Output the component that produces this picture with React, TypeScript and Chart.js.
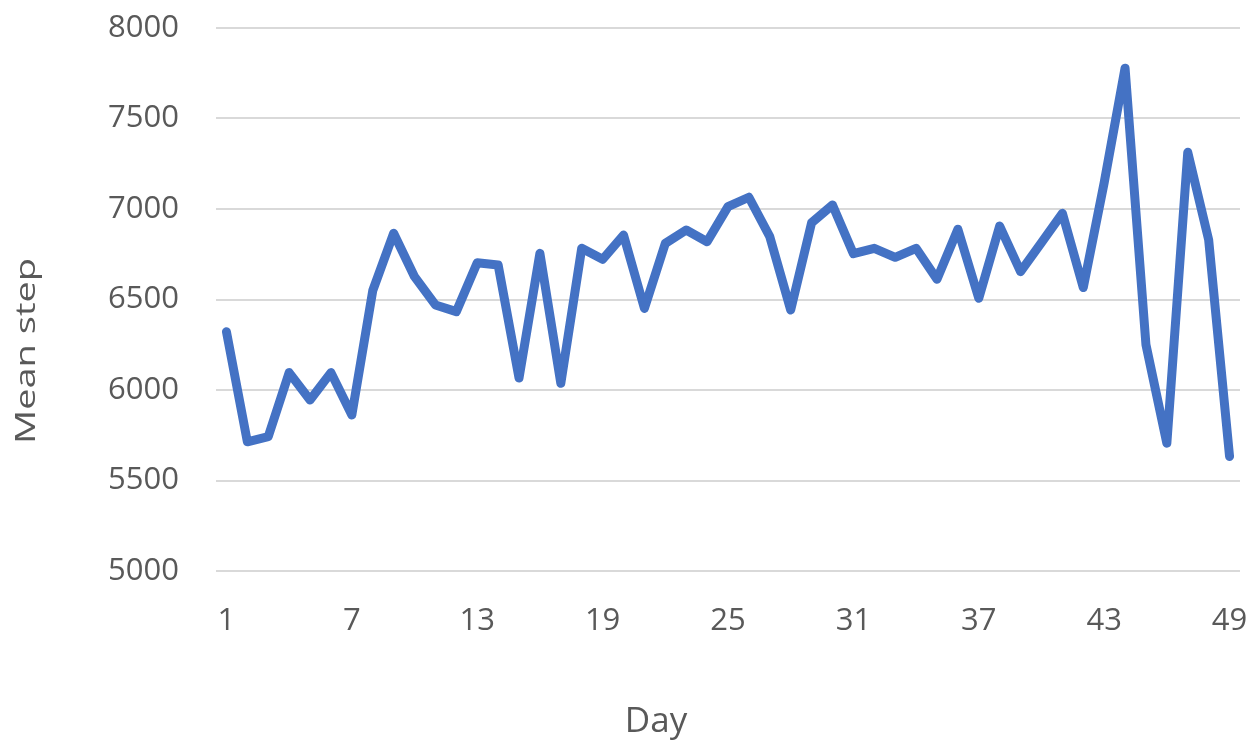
import React, { useEffect, useRef } from "react";
import { Chart, registerables } from "chart.js";

Chart.register(...registerables);

const DAYS = [
  "1", "2", "3", "4", "5", "6", "7", "8", "9", "10",
  "11", "12", "13", "14", "15", "16", "17", "18", "19", "20",
  "21", "22", "23", "24", "25", "26", "27", "28", "29", "30",
  "31", "32", "33", "34", "35", "36", "37", "38", "39", "40",
  "41", "42", "43", "44", "45", "46", "47", "48", "49",
];

const MEAN_STEP = [
  6322, 5714, 5742, 6096, 5945, 6096, 5862, 6549, 6866, 6626,
  6470, 6433, 6703, 6691, 6066, 6755, 6037, 6783, 6722, 6856,
  6451, 6810, 6884, 6819, 7013, 7065, 6847, 6442, 6924, 7022,
  6753, 6783, 6733, 6783, 6612, 6888, 6507, 6906, 6654, 6814,
  6976, 6566, 7145, 7778, 6250, 5706, 7313, 6830, 5633,
];

const X_TICK_LABELS = ["1", "7", "13", "19", "25", "31", "37", "43", "49"];
const Y_MIN = 5000;
const Y_MAX = 8000;
const Y_STEP = 500;

const X_TITLE = "Day";
const Y_TITLE = "Mean step";

const FONT = "'Open Sans', 'Noto Sans', sans-serif";
const TEXT_COLOR = "#595959";

// target plot area
const AREA = { left: 216, top: 28, right: 1240, bottom: 571 };

const titlePlugin = {
  id: "axisTitles",
  afterDraw(chart: any) {
    const ctx = chart.ctx;
    ctx.save();
    ctx.fillStyle = TEXT_COLOR;
    ctx.textAlign = "center";
    ctx.textBaseline = "alphabetic";
    ctx.font = `35px ${FONT}`;
    ctx.fillText(X_TITLE, 656, 732);
    ctx.restore();

    ctx.save();
    ctx.fillStyle = TEXT_COLOR;
    ctx.textAlign = "center";
    ctx.textBaseline = "alphabetic";
    ctx.font = `28px ${FONT}`;
    const w = ctx.measureText(Y_TITLE).width;
    ctx.translate(35, 351);
    ctx.rotate(-Math.PI / 2);
    ctx.scale(186 / w, 1);
    ctx.fillText(Y_TITLE, 0, 0);
    ctx.restore();
  },
};

const noOverhang = (scale: any) => {
  scale.paddingTop = 0;
  scale.paddingBottom = 0;
  scale.paddingLeft = 0;
  scale.paddingRight = 0;
};

export default function App() {
  const ref = useRef<HTMLCanvasElement>(null);

  useEffect(() => {
    document.body.style.margin = "0";
    const canvas = ref.current;
    if (!canvas) return;
    const chart = new Chart(canvas, {
      type: "line",
      data: {
        labels: DAYS,
        datasets: [
          {
            label: Y_TITLE,
            data: MEAN_STEP,
            borderColor: "#4472C4",
            backgroundColor: "#4472C4",
            borderWidth: 9,
            pointRadius: 0,
            tension: 0,
            borderCapStyle: "round",
            borderJoinStyle: "round",
            fill: false,
          },
        ],
      },
      options: {
        animation: false,
        responsive: false,
        devicePixelRatio: 1,
        layout: {
          padding: {
            left: 0,
            right: 1260 - AREA.right,
            top: AREA.top,
            bottom: 0,
          },
        },
        plugins: {
          legend: { display: false },
          tooltip: { enabled: false },
          title: { display: false },
        },
        scales: {
          x: {
            type: "category",
            offset: true,
            grid: { display: false, drawTicks: false },
            border: { display: false },
            ticks: {
              autoSkip: false,
              maxRotation: 0,
              minRotation: 0,
              padding: 32,
              color: TEXT_COLOR,
              font: { family: FONT, size: 31 },
              callback: (_v: any, i: number) =>
                X_TICK_LABELS.includes(DAYS[i]) ? DAYS[i] : "",
            },
            afterFit: (scale: any) => {
              scale.height = 740 - AREA.bottom;
              noOverhang(scale);
            },
          },
          y: {
            min: Y_MIN,
            max: Y_MAX,
            grid: { color: "#d9d9d9", lineWidth: 2, drawTicks: false },
            border: { display: false },
            ticks: {
              stepSize: Y_STEP,
              padding: 37,
              color: TEXT_COLOR,
              font: { family: FONT, size: 31 },
              callback: (v: any) => String(v),
            },
            afterFit: (scale: any) => {
              scale.width = AREA.left;
              noOverhang(scale);
            },
          },
        },
      },
      plugins: [titlePlugin],
    });

    return () => chart.destroy();
  }, []);

  return (
    <div style={{ position: "absolute", left: 0, top: 0, width: 1260, height: 740 }}>
      <canvas ref={ref} width={1260} height={740} />
    </div>
  );
}
